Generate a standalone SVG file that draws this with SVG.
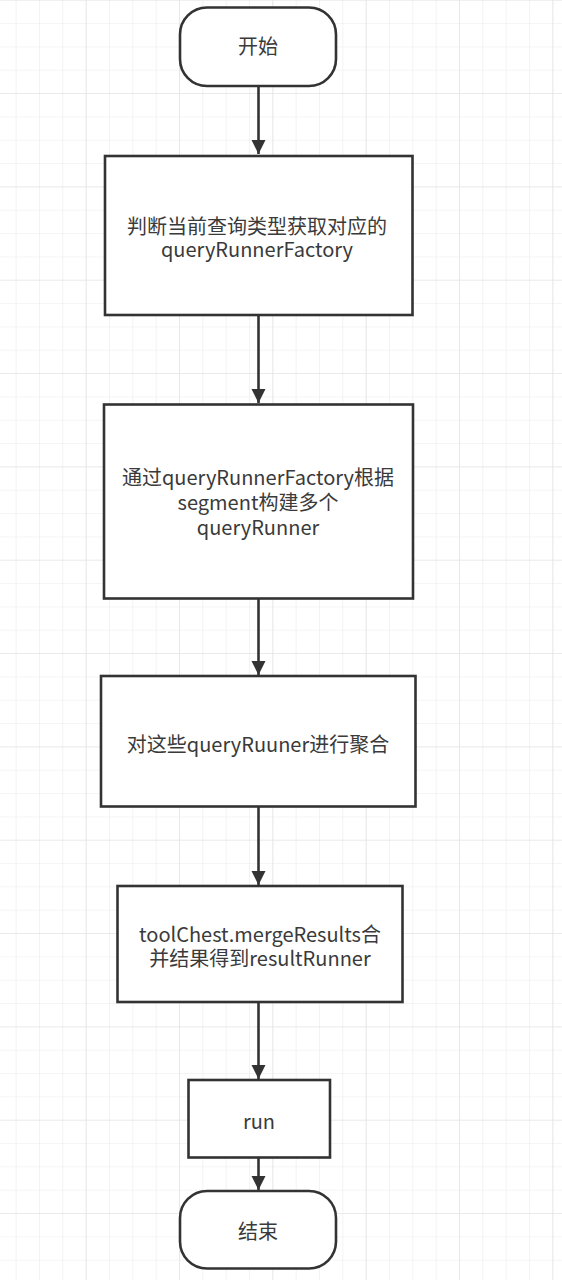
<svg xmlns="http://www.w3.org/2000/svg" width="562" height="1280" viewBox="0 0 562 1280">
<defs>
<pattern id="minor" x="-6.667" y="0.7" width="23.333" height="23.333" patternUnits="userSpaceOnUse">
<path d="M23.333 0V23.333M0 23.333H23.333" fill="none" stroke="#ececec" stroke-width="1.2"/>
</pattern>
<pattern id="major" x="-6.667" y="0.7" width="93.333" height="93.333" patternUnits="userSpaceOnUse">
<path d="M93.333 0V93.333M0 93.333H93.333" fill="none" stroke="#e2e2e2" stroke-width="1.2"/>
</pattern>
<marker id="arr" viewBox="0 0 14 22" refX="14" refY="7" markerWidth="14" markerHeight="22" markerUnits="userSpaceOnUse" orient="auto">
<path d="M0 0L14 7L0 14Z" fill="#333"/>
</marker>
<style>
.shape{fill:#fff;stroke:#333;stroke-width:2.6}
.lbl{font-family:"Noto Sans CJK SC","Noto Sans",sans-serif;font-size:20px;fill:#3a3a3a;text-anchor:middle}
.conn{stroke:#333;stroke-width:2.6;fill:none}
</style>
</defs>
<rect width="562" height="1280" fill="#fff"/>
<rect width="562" height="1280" fill="url(#minor)"/>
<rect width="562" height="1280" fill="url(#major)"/>
<g id="connectors">
<path class="conn" d="M258.5 86V154" marker-end="url(#arr)"/>
<path class="conn" d="M258.5 315V403" marker-end="url(#arr)"/>
<path class="conn" d="M258.5 599V675" marker-end="url(#arr)"/>
<path class="conn" d="M258.5 807V885" marker-end="url(#arr)"/>
<path class="conn" d="M258.5 1002V1079" marker-end="url(#arr)"/>
<path class="conn" d="M258.5 1158V1190" marker-end="url(#arr)"/>
</g>
<g id="start">
<rect class="shape" x="180" y="7.5" width="156" height="78.5" rx="27" ry="27"/>
<text class="lbl" x="258" y="54">开始</text>
</g>
<g id="step1">
<rect class="shape" x="105" y="156" width="307.5" height="159"/>
<text class="lbl" x="257" y="233.5">判断当前查询类型获取对应的</text>
<text class="lbl" x="257" y="257">queryRunnerFactory</text>
</g>
<g id="step2">
<rect class="shape" x="104" y="404.5" width="309" height="194"/>
<text class="lbl" x="258" y="485">通过queryRunnerFactory根据</text>
<text class="lbl" x="258" y="510">segment构建多个</text>
<text class="lbl" x="258" y="534.5">queryRunner</text>
</g>
<g id="step3">
<rect class="shape" x="101" y="676" width="314.5" height="130.5"/>
<text class="lbl" x="258" y="752">对这些queryRuuner进行聚合</text>
</g>
<g id="step4">
<rect class="shape" x="117.5" y="886" width="285" height="116"/>
<text class="lbl" x="260" y="942">toolChest.mergeResults合</text>
<text class="lbl" x="260" y="965.5">并结果得到resultRunner</text>
</g>
<g id="run">
<rect class="shape" x="188.5" y="1080" width="141.5" height="77.5"/>
<text class="lbl" x="259" y="1128.5">run</text>
</g>
<g id="end">
<rect class="shape" x="180" y="1191" width="156" height="77.5" rx="27" ry="27"/>
<text class="lbl" x="258" y="1238.5">结束</text>
</g>
</svg>
